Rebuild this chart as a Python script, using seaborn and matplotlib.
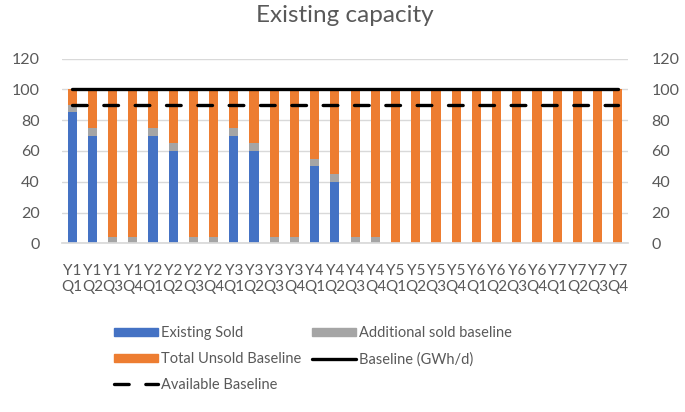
import matplotlib
matplotlib.use("Agg")
import matplotlib.pyplot as plt
import seaborn as sns
import pandas as pd
import numpy as np
from matplotlib.lines import Line2D
from matplotlib.patches import Patch

years = ["Y1", "Y2", "Y3", "Y4", "Y5", "Y6", "Y7"]
quarters = ["Q1", "Q2", "Q3", "Q4"]
categories = [f"{y}\n{q}" for y in years for q in quarters]

existing_sold = [85, 70, 0, 0, 70, 60, 0, 0, 70, 60, 0, 0, 50, 40, 0, 0,
                 0, 0, 0, 0, 0, 0, 0, 0, 0, 0, 0, 0]
additional_sold = [5, 5, 4, 4, 5, 5, 4, 4, 5, 5, 4, 4, 5, 5, 4, 4,
                   0, 0, 0, 0, 0, 0, 0, 0, 0, 0, 0, 0]
total_unsold = [100 - a - b for a, b in zip(existing_sold, additional_sold)]
baseline = [100] * 28
available = [90] * 28

sns.set_theme(style="white")
plt.rcParams["font.family"] = ["Lato", "DejaVu Sans"]

C_BLUE = "#4472C4"
C_GRAY = "#A5A5A5"
C_ORANGE = "#ED7D31"
C_TEXT = "#595959"
C_GRID = "#D9D9D9"

df = pd.DataFrame({
    "cat": categories,
    "existing": existing_sold,
    "additional": additional_sold,
    "unsold": total_unsold,
})
df["s1"] = df["existing"] + df["additional"]
df["s2"] = df["s1"] + df["unsold"]

fig = plt.figure(figsize=(6.85, 4.12), dpi=100)
ax = fig.add_axes([62 / 685, 1 - 243.3 / 412, (628 - 62) / 685, (243.3 - 58.5) / 412])

w = 0.45
sns.barplot(data=df, x="cat", y="s2", color=C_ORANGE, width=w, ax=ax, saturation=1, linewidth=0)
sns.barplot(data=df, x="cat", y="s1", color=C_GRAY, width=w, ax=ax, saturation=1, linewidth=0)
sns.barplot(data=df, x="cat", y="existing", color=C_BLUE, width=w, ax=ax, saturation=1, linewidth=0)

xs = np.arange(len(categories))
ax.plot(xs, baseline, color="black", lw=2.4, solid_capstyle="round", zorder=5)
ax.plot(xs, available, color="black", lw=2.4, dashes=(4.4, 5.0), dash_capstyle="round", zorder=5)

ax.set_xlim(-0.5, len(categories) - 0.5)
ax.set_ylim(0, 120)
ax.set_yticks(range(0, 121, 20))
ax.yaxis.grid(True, color=C_GRID, lw=1)
ax.set_axisbelow(True)
for s in ["top", "left", "right"]:
    ax.spines[s].set_visible(False)
ax.spines["bottom"].set_color(C_GRID)
ax.set_xlabel("")
ax.set_ylabel("")
ax.tick_params(axis="x", length=0, labelsize=11, colors=C_TEXT, pad=15)
ax.tick_params(axis="y", length=0, labelsize=11.5, colors=C_TEXT, pad=16)
for t in ax.get_xticklabels():
    t.set_linespacing(1.2)

ax2 = ax.twinx()
ax2.set_ylim(0, 120)
ax2.set_yticks(range(0, 121, 20))
for s in ax2.spines.values():
    s.set_visible(False)
ax2.tick_params(axis="y", length=0, labelsize=11.5, colors=C_TEXT, pad=17)

fig.text(345 / 685, 1 - 15 / 412, "Existing capacity", ha="center", va="center",
         fontsize=17.5, color=C_TEXT)

h_exist = Patch(color=C_BLUE, label="Existing Sold")
h_add = Patch(color=C_GRAY, label="Additional sold baseline")
h_unsold = Patch(color=C_ORANGE, label="Total Unsold Baseline")
h_base = Line2D([], [], color="black", lw=2.4, label="Baseline (GWh/d)")
h_avail = Line2D([], [], color="black", lw=2.4, dashes=(4.4, 5.0), dash_capstyle="round",
                 label="Available Baseline")
handles = [h_exist, h_unsold, h_avail, h_add, h_base]
leg = fig.legend(handles=handles, ncol=2, loc="upper left",
                 bbox_to_anchor=(101 / 685, 1 - 313 / 412), frameon=False,
                 fontsize=10.5, handlelength=3.0, handleheight=0.45,
                 columnspacing=0.75, labelspacing=0.82, handletextpad=0.2)
for t in leg.get_texts():
    t.set_color(C_TEXT)

fig.savefig("out.png", dpi=100)
